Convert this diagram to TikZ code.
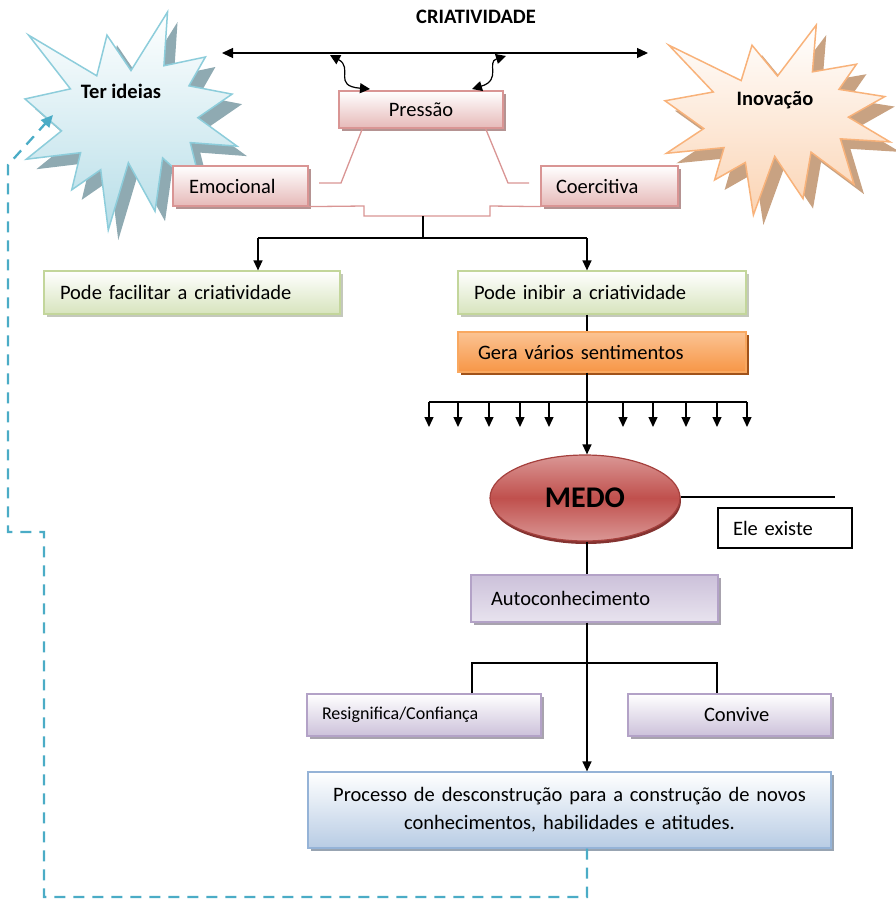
\documentclass[tikz,border=0pt]{standalone}
\usepackage{fontspec}
\setmainfont{Carlito}
\usetikzlibrary{arrows.meta,shadows,calc,shapes.geometric}

\definecolor{pinkB}{HTML}{D99594}
\definecolor{pinkF}{HTML}{E6B9B8}
\definecolor{pinkS}{HTML}{B59392}
\definecolor{greenB}{HTML}{C3D69B}
\definecolor{greenF}{HTML}{D7E4BD}
\definecolor{greenS}{HTML}{C4C8BC}
\definecolor{orT}{HTML}{FBC393}
\definecolor{orB}{HTML}{F79646}
\definecolor{orD}{HTML}{F9A860}
\definecolor{orS}{HTML}{A0521A}
\definecolor{purB}{HTML}{B3A2C7}
\definecolor{purF}{HTML}{CCC1DA}
\definecolor{purS}{HTML}{A8A3AE}
\definecolor{bluB}{HTML}{95B3D7}
\definecolor{bluF}{HTML}{B8CCE4}
\definecolor{bluS}{HTML}{98A4B2}
\definecolor{medoM}{HTML}{C0504D}
\definecolor{medoL}{HTML}{DA9795}
\definecolor{medoB}{HTML}{A5403D}
\definecolor{teal}{HTML}{4BACC6}
\definecolor{starBo}{HTML}{8DCDDB}
\definecolor{starBf}{HTML}{B7DEE8}
\definecolor{starBs}{HTML}{8FAAB2}
\definecolor{starOo}{HTML}{F8B27A}
\definecolor{starOf}{HTML}{FBD4B4}
\definecolor{starOs}{HTML}{C8A282}

\newcommand\sealpath{(108,58) -- (83.52,22.95) -- (73.12,63.2) -- (3.7,22.95) -- (46.27,76.17) -- (0,86.15) -- (37.22,117.75) -- (1.35,145.87) -- (56.67,139.37) -- (47.62,176.17) -- (77.15,156.27) -- (84.85,216) -- (105.32,149.35) -- (132.47,197.37) -- (140.2,144.57) -- (181.45,180.95) -- (168.37,129.42) -- (216,132.9) -- (176.07,104.75) -- (210.97,81.37) -- (167.02,73.15) -- (183.8,44.57) -- (141.55,53.25) -- (145.22,0) -- cycle}

\begin{document}
\begin{tikzpicture}[x=1pt,y=-1pt,
  txt/.style={font=\fontsize{20.5}{25}\selectfont},
  bx/.style={draw, line width=1.2pt, rectangle, inner ysep=0pt, align=left, txt},
  pinkbox/.style={bx, draw=pinkB, top color=white, bottom color=pinkF,
     drop shadow={shadow xshift=3pt,shadow yshift=-3pt,fill=pinkS,opacity=1}},
  greenbox/.style={bx, draw=greenB, top color=white, bottom color=greenF,
     drop shadow={shadow xshift=3pt,shadow yshift=-3pt,fill=greenS,opacity=1}},
  orbox/.style={bx, draw=orD, top color=orT, bottom color=orB,
     drop shadow={shadow xshift=3pt,shadow yshift=-3pt,fill=orS,opacity=1}},
  purbox/.style={bx, draw=purB, top color=purF, bottom color=purF!45,
     drop shadow={shadow xshift=3pt,shadow yshift=-3pt,fill=purS,opacity=1}},
  purbox2/.style={bx, draw=purB, top color=white, bottom color=purF,
     drop shadow={shadow xshift=3pt,shadow yshift=-3pt,fill=purS,opacity=1}},
  blubox/.style={bx, draw=bluB, top color=white, bottom color=bluF,
     drop shadow={shadow xshift=3pt,shadow yshift=-3pt,fill=bluS,opacity=1}},
  blk/.style={draw=black, line width=1.3pt},
  pinkline/.style={draw=pinkB, line width=1.3pt},
  tip/.style={-{Triangle[length=10pt,width=9pt]}},
  tealdash/.style={draw=teal, line width=2.3pt, dash pattern=on 11pt off 8pt}
]
\useasboundingbox (0,0) rectangle (895,900);

% ---------- starbursts ----------
\begin{scope}[shift={(25,12)}, x=0.9815pt, y=-1.0093pt]
  \fill[starBs, shift={(10pt,-10pt)}] \sealpath;
  \shadedraw[draw=starBo, line width=1.5pt, top color=white, bottom color=starBf] \sealpath;
\end{scope}
\node[font=\fontsize{20.5}{25}\selectfont\bfseries] (ter) at (121,91) {Ter ideias};

\begin{scope}[shift={(665,25)}, x=1.0417pt, y=-0.8796pt]
  \fill[starOs, shift={(10pt,-10pt)}] \sealpath;
  \shadedraw[draw=starOo, line width=1.5pt, top color=white, bottom color=starOf] \sealpath;
\end{scope}
\node[font=\fontsize{20.5}{25}\selectfont\bfseries] (ino) at (775,100) {Inovação};

% ---------- title ----------
\node[font=\fontsize{20.5}{24}\selectfont\bfseries] (cri) at (476,17) {CRIATIVIDADE};

% ---------- boxes ----------
\node[pinkbox, minimum width=164pt, minimum height=37pt, text width=140pt, inner xsep=12pt, align=center] (pres) at (421,109.5) {Pressão};
\node[pinkbox, minimum width=135pt, minimum height=40pt, text width=103pt, inner xsep=16pt] (emo) at (240.5,186) {Emocional};
\node[pinkbox, minimum width=137pt, minimum height=40pt, text width=107pt, inner xsep=15pt] (coe) at (609.5,186) {Coercitiva};

\node[greenbox, minimum width=296pt, minimum height=43pt, text width=264pt, inner xsep=16pt] (fac) at (192,292.5) {Pode facilitar a criatividade};
\node[greenbox, minimum width=288pt, minimum height=43pt, text width=256pt, inner xsep=16pt] (ini) at (602,292.5) {Pode inibir a criatividade};
\node[orbox, minimum width=288pt, minimum height=40pt, text width=248pt, inner xsep=20pt] (gera) at (602,352) {Gera vários sentimentos};

\node[ellipse, draw=medoB, line width=1.2pt, minimum width=190pt, minimum height=86pt, inner sep=0pt,
      top color=medoL, bottom color=medoL, middle color=medoM,
      drop shadow={shadow xshift=1pt,shadow yshift=-3pt,fill=medoB!80!black,opacity=1},
      font=\fontsize{30}{34}\selectfont\bfseries] (medo) at (585,498) {MEDO};
\node[draw=black, line width=1.2pt, fill=white, minimum width=134pt, minimum height=40pt, text width=104pt, inner xsep=15pt, inner ysep=0pt, align=left, txt] (ele) at (785,528) {Ele existe};

\node[purbox, minimum width=247pt, minimum height=47pt, text width=207pt, inner xsep=20pt] (auto) at (594.5,598.5) {Autoconhecimento};
\node[purbox2, minimum width=234pt, minimum height=42pt, text width=204pt, inner xsep=15pt, font=\fontsize{18}{22}\selectfont] (res) at (424,715) {Resignifica/Confiança};
\node[purbox2, minimum width=203pt, minimum height=42pt, text width=51pt, inner xsep=76pt] (conv) at (729.5,715) {Convive};

\node[blubox, minimum width=523pt, minimum height=76pt, text width=503pt, inner xsep=10pt, align=center, font=\fontsize{20.5}{28}\selectfont] (proc) at (569.5,810) {Processo de desconstrução para a construção de novos\\conhecimentos, habilidades e atitudes.};

% ---------- top connectors ----------
\coordinate (tl) at (222,53);
\coordinate (tr) at (648,53);
\draw[blk, {Triangle[length=11pt,width=10pt]}-{Triangle[length=11pt,width=10pt]}] (tl) -- (tr);
\coordinate (c1s) at (330,55);
\coordinate (c1e) at (370,89);
\coordinate (c2s) at (506,56);
\coordinate (c2e) at (472,89);
\draw[blk, line width=1.2pt, {Triangle[length=10pt,width=10pt]}-{Triangle[length=10pt,width=10pt]}] (c1s) .. controls (354,68) and (332,86) .. (c1e);
\draw[blk, line width=1.2pt, {Triangle[length=10pt,width=10pt]}-{Triangle[length=10pt,width=10pt]}] (c2s) .. controls (486,62) and (502,80) .. (c2e);

% ---------- pink connectors ----------
\draw[pinkline] ($(pres.south west)+(24,0)$) -- (341,183) -- (319,183);
\draw[pinkline] ($(pres.south east)+(-18,0)$) -- (508,183) -- (529,183);
\draw[pinkline] (emo.south east) -- (364,206) -- (364,216) -- (490,216) -- (490,206) -- (coe.south west);

% ---------- tree ----------
\coordinate (ax) at (587,0);
\coordinate (j1) at (423,216);
\coordinate (j2) at (423,238);
\coordinate (b1) at (258,238);
\coordinate (b2) at (587,238);
\draw[blk] (j1) -- (j2);
\draw[blk] (b1) -- (b2);
\draw[blk, tip] (b1) -- (b1 |- fac.north);
\draw[blk, tip] (b2) -- (b2 |- ini.north);

\draw[blk] (ini.south -| ax) -- (gera.north -| ax);
\draw[blk, tip] (gera.south -| ax) -- (medo.north -| ax);
\draw[blk] (429,402) -- (747,402);
\foreach \xx in {429,458,489,520,549,623,653,686,717,747}{
  \draw[blk, tip] (\xx,402) -- (\xx,427);
}

\coordinate (ee) at (835,497);
\draw[blk] (medo.east |- ee) -- (ee);
\draw[blk] (medo.south -| ax) -- (auto.north -| ax);
\draw[blk, tip] (auto.south -| ax) -- (proc.north -| ax);
\coordinate (bl) at (472,663);
\coordinate (brr) at (717,663);
\draw[blk] (bl |- res.north) -- (bl) -- (brr) -- (brr |- conv.north);

% ---------- dashed feedback ----------
\coordinate (dt) at (53,115);
\draw[tealdash, -{Triangle[length=12pt,width=11pt]}] (proc.south -| ax) -- (587,897) -- (44,897) -- (44,532) -- (8,532) -- (8,165) -- (dt);

\end{tikzpicture}
\end{document}
